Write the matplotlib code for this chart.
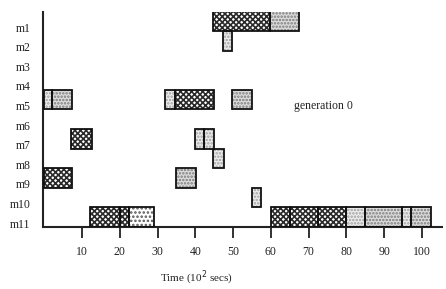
import matplotlib
matplotlib.use("Agg")
import matplotlib.pyplot as plt

plt.rcParams['font.family'] = ['Liberation Serif', 'DejaVu Serif']
plt.rcParams['hatch.linewidth'] = 1.2

machines = ['m1', 'm2', 'm3', 'm4', 'm5', 'm6', 'm7', 'm8', 'm9', 'm10', 'm11']
xticks = [10, 20, 30, 40, 50, 60, 70, 80, 90, 100]

seg_machine = ['m1', 'm1', 'm2',
               'm5', 'm5', 'm5', 'm5', 'm5',
               'm7', 'm7', 'm7', 'm8',
               'm9', 'm9', 'm10',
               'm11', 'm11', 'm11', 'm11', 'm11', 'm11', 'm11', 'm11', 'm11', 'm11']
seg_start = [44.6, 59.7, 47.2,
             0.0, 2.2, 32.1, 34.6, 49.8,
             7.1, 39.9, 42.4, 44.7,
             0.0, 34.8, 54.9,
             12.1, 20.1, 22.5, 59.9, 65.0, 72.5, 80.0, 84.9, 94.6, 97.2]
seg_end = [59.7, 67.4, 49.8,
           2.2, 7.4, 34.6, 44.9, 54.9,
           12.6, 42.4, 44.9, 47.6,
           7.5, 40.1, 57.4,
           20.1, 22.5, 29.0, 65.0, 72.5, 80.0, 84.9, 94.6, 97.2, 102.3]
seg_kind = ['cross', 'dot', 'light',
            'light', 'dot', 'light', 'cross', 'dot',
            'cross', 'light', 'light', 'light',
            'cross', 'dot', 'light',
            'cross', 'cross', 'sparse', 'cross', 'cross', 'cross', 'light', 'dot', 'light', 'dot']

styles = {
    'cross': dict(facecolor='white', hatchcolor='#2a2a2a', hatch='xxxxxx'),
    'dot': dict(facecolor='#dcdcdc', hatchcolor='#7a7a7a', hatch='.....'),
    'light': dict(facecolor='#ececec', hatchcolor='#a0a0a0', hatch='.....'),
    'sparse': dict(facecolor='white', hatchcolor='#555555', hatch='....'),
}

fig = plt.figure(figsize=(4.46, 2.89), dpi=100)
ax = fig.add_axes([43 / 446, 62 / 289, 398.7 / 446, 215 / 289])

row = {m: i + 1 for i, m in enumerate(machines)}
for m, s, e, k in zip(seg_machine, seg_start, seg_end, seg_kind):
    st = styles[k]
    y = row[m] - 0.3
    ax.barh(y, e - s, left=s, height=1.0, align='center',
            facecolor=st['facecolor'], edgecolor=st['hatchcolor'],
            hatch=st['hatch'], linewidth=0, zorder=2)
    ax.barh(y, e - s, left=s, height=1.0, align='center',
            facecolor='none', edgecolor='#111111', linewidth=1.3, zorder=3)

ax.set_xlim(-0.3, 105.2)
ax.set_ylim(11.2, 0.235)
ax.set_yticks([row[m] for m in machines])
ax.set_yticklabels(machines)
ax.set_xticks(xticks)
ax.set_xticklabels([str(t) for t in xticks])
ax.tick_params(axis='y', length=0, pad=9, labelsize=8.5, labelcolor='#222222')
ax.tick_params(axis='x', direction='out', length=8, width=1.3, pad=6,
               labelsize=8.5, labelcolor='#222222', color='#222222')
for side in ['top', 'right']:
    ax.spines[side].set_visible(False)
for side in ['left', 'bottom']:
    ax.spines[side].set_linewidth(1.5)
    ax.spines[side].set_color('#222222')

fig.text(323 / 446, 1 - 106 / 289, 'generation 0', fontsize=8.5,
         ha='center', va='center', color='#222222')
fig.text(196 / 446, 1 - 278 / 289, 'Time (10$^2$ secs)', fontsize=8,
         ha='center', va='center', color='#222222')

fig.savefig('out.png', dpi=100)
